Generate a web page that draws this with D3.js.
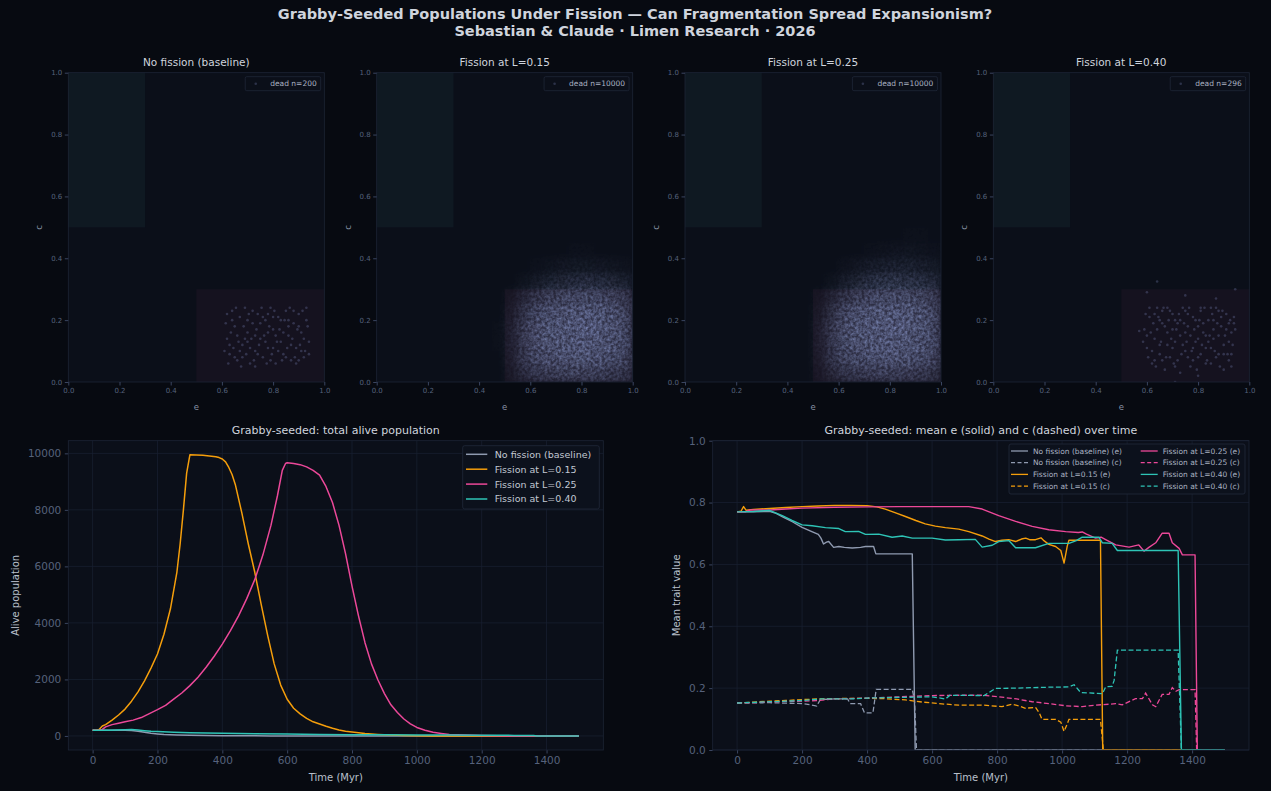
<!DOCTYPE html>
<html>
<head>
<meta charset="utf-8">
<script src="https://cdn.jsdelivr.net/npm/d3@7"></script>
<style>
  body { margin: 0; background: #070a11; }
  text { font-family: "DejaVu Sans", sans-serif; }
</style>
</head>
<body>
<svg id="chart" width="1271" height="791"></svg>
<script>
// ---- data ----
var scenarios = ["No fission (baseline)", "Fission at L=0.15", "Fission at L=0.25", "Fission at L=0.40"];
var colors = ["#8f9ab0", "#f59e0b", "#ec4899", "#2ec4b6"];
var deadCounts = [200, 10000, 10000, 296];
var axisTicks01 = [0, 0.2, 0.4, 0.6, 0.8, 1.0];
var timeTicks = [0, 200, 400, 600, 800, 1000, 1200, 1400];
var popTicks = [0, 2000, 4000, 6000, 8000, 10000];

// sparse dead populations (e, c)
var deadBaseline = [[0.62,0.14],[0.63,0.09],[0.64,0.23],[0.65,0.18],[0.66,0.07],[0.67,0.21],[0.68,0.12],[0.69,0.24],[0.70,0.16],[0.71,0.06],[0.72,0.19],[0.73,0.10],[0.74,0.22],[0.75,0.14],[0.76,0.08],[0.77,0.2],[0.78,0.11],[0.79,0.24],[0.80,0.17],[0.81,0.06],[0.82,0.21],[0.83,0.13],[0.84,0.09],[0.85,0.23],[0.86,0.15],[0.87,0.07],[0.88,0.19],[0.89,0.11],[0.90,0.22],[0.91,0.16],[0.92,0.08],[0.93,0.2],[0.94,0.13],
  [0.615,0.19],[0.625,0.06],[0.635,0.16],[0.645,0.11],[0.655,0.24],[0.665,0.13],[0.675,0.05],[0.685,0.18],[0.695,0.09],[0.705,0.22],[0.715,0.14],[0.725,0.07],[0.735,0.17],[0.745,0.12],[0.755,0.24],[0.765,0.15],[0.775,0.06],[0.785,0.18],[0.795,0.09],[0.805,0.23],[0.815,0.13],[0.825,0.17],[0.835,0.07],[0.845,0.2],[0.855,0.11],[0.865,0.24],[0.875,0.14],[0.885,0.08],[0.895,0.17],[0.905,0.12],[0.915,0.23],[0.925,0.1],[0.935,0.18],
  [0.61,0.1],[0.64,0.2],[0.66,0.15],[0.68,0.08],[0.7,0.2],[0.72,0.23],[0.73,0.05],[0.75,0.19],[0.77,0.13],[0.79,0.07],[0.8,0.21],[0.82,0.1],[0.84,0.16],[0.86,0.2],[0.87,0.12],[0.89,0.06],[0.9,0.18],[0.92,0.14],[0.94,0.09],[0.63,0.12],[0.67,0.1],[0.69,0.14],[0.71,0.11],[0.74,0.09],[0.76,0.21],[0.78,0.16],[0.81,0.15],[0.83,0.2],[0.85,0.08],[0.88,0.23],[0.91,0.1],[0.93,0.24],[0.62,0.22],[0.65,0.08],[0.7,0.13],[0.73,0.15],[0.78,0.22],[0.8,0.11],[0.86,0.18],[0.9,0.07]];

var deadL40 = [[0.59,0.17],[0.6,0.11],[0.61,0.21],[0.62,0.06],[0.63,0.14],[0.64,0.24],[0.65,0.09],[0.66,0.19],[0.67,0.04],[0.68,0.16],[0.69,0.23],[0.7,0.11],[0.71,0.2],[0.72,0.07],[0.73,0.15],[0.74,0.24],[0.75,0.1],[0.76,0.18],[0.77,0.05],[0.78,0.21],[0.79,0.13],[0.8,0.08],[0.81,0.23],[0.82,0.16],[0.83,0.11],[0.84,0.2],[0.85,0.06],[0.86,0.14],[0.87,0.24],[0.88,0.09],[0.89,0.18],[0.9,0.12],[0.91,0.22],[0.92,0.07],[0.93,0.16],[0.94,0.21],
  [0.585,0.13],[0.595,0.22],[0.605,0.08],[0.615,0.16],[0.625,0.19],[0.635,0.05],[0.645,0.21],[0.655,0.13],[0.665,0.24],[0.675,0.08],[0.685,0.2],[0.695,0.14],[0.705,0.06],[0.715,0.17],[0.725,0.22],[0.735,0.09],[0.745,0.19],[0.755,0.13],[0.765,0.24],[0.775,0.1],[0.785,0.17],[0.795,0.04],[0.805,0.2],[0.815,0.12],[0.825,0.24],[0.835,0.07],[0.845,0.15],[0.855,0.22],[0.865,0.1],[0.875,0.19],[0.885,0.05],[0.895,0.23],[0.905,0.15],[0.915,0.09],[0.925,0.2],[0.935,0.12],[0.945,0.17],
  [0.6,0.15],[0.62,0.1],[0.63,0.22],[0.64,0.17],[0.65,0.12],[0.66,0.07],[0.67,0.18],[0.68,0.24],[0.69,0.08],[0.7,0.17],[0.71,0.13],[0.72,0.19],[0.73,0.03],[0.74,0.12],[0.75,0.23],[0.76,0.08],[0.77,0.15],[0.78,0.11],[0.79,0.2],[0.8,0.14],[0.81,0.09],[0.82,0.19],[0.83,0.06],[0.84,0.13],[0.85,0.24],[0.86,0.2],[0.87,0.08],[0.88,0.15],[0.89,0.21],[0.9,0.04],[0.91,0.17],[0.92,0.13],[0.93,0.09],[0.94,0.19],
  [0.61,0.24],[0.63,0.07],[0.65,0.2],[0.66,0.23],[0.68,0.12],[0.7,0.22],[0.71,0.05],[0.73,0.2],[0.75,0.16],[0.76,0.22],[0.78,0.07],[0.8,0.18],[0.81,0.24],[0.83,0.15],[0.85,0.11],[0.86,0.17],[0.88,0.23],[0.9,0.09],[0.92,0.19],[0.93,0.05],
  [0.64,0.325],[0.6,0.29],[0.945,0.3],[0.71,0.0],[0.8,0.02],[0.57,0.165],[0.75,0.28],[0.87,0.27]];

// dense dead clouds as density grids: rows c = 0..0.45 (step 0.05), cols e = 0.45..0.95 (step 0.05)
var gridE = [0.45, 0.5, 0.55, 0.6, 0.65, 0.7, 0.75, 0.8, 0.85, 0.9, 0.95];
var gridC = [0, 0.05, 0.1, 0.15, 0.2, 0.25, 0.3, 0.35, 0.4, 0.45];
var densityL15 = [
  [0, 0.12, 0.35, 0.5, 0.55, 0.6, 0.62, 0.62, 0.58, 0.5, 0.45],
  [0, 0.18, 0.5, 0.72, 0.8, 0.85, 0.88, 0.9, 0.85, 0.78, 0.65],
  [0.02, 0.2, 0.55, 0.8, 0.88, 0.92, 0.95, 0.97, 0.93, 0.85, 0.7],
  [0.02, 0.2, 0.55, 0.8, 0.9, 0.95, 0.98, 1.0, 0.95, 0.88, 0.72],
  [0, 0.15, 0.45, 0.7, 0.82, 0.88, 0.92, 0.95, 0.9, 0.82, 0.65],
  [0, 0.08, 0.28, 0.48, 0.6, 0.68, 0.72, 0.75, 0.7, 0.62, 0.5],
  [0, 0, 0.06, 0.15, 0.25, 0.3, 0.35, 0.38, 0.35, 0.3, 0.22],
  [0, 0, 0, 0.03, 0.06, 0.1, 0.12, 0.12, 0.1, 0.08, 0.05],
  [0, 0, 0, 0, 0, 0.01, 0.03, 0.02, 0.01, 0, 0],
  [0, 0, 0, 0, 0, 0, 0, 0, 0, 0, 0]];
var densityL25 = [
  [0, 0.1, 0.3, 0.45, 0.5, 0.55, 0.58, 0.58, 0.55, 0.5, 0.42],
  [0, 0.15, 0.45, 0.68, 0.78, 0.82, 0.85, 0.88, 0.85, 0.78, 0.65],
  [0, 0.18, 0.5, 0.78, 0.88, 0.92, 0.95, 0.95, 0.92, 0.85, 0.7],
  [0, 0.18, 0.52, 0.8, 0.9, 0.95, 0.97, 1.0, 0.97, 0.9, 0.72],
  [0, 0.12, 0.42, 0.7, 0.85, 0.9, 0.93, 0.95, 0.93, 0.85, 0.68],
  [0, 0.06, 0.25, 0.45, 0.6, 0.7, 0.75, 0.78, 0.75, 0.68, 0.55],
  [0, 0, 0.06, 0.18, 0.3, 0.4, 0.45, 0.48, 0.45, 0.4, 0.32],
  [0, 0, 0, 0.05, 0.1, 0.16, 0.2, 0.22, 0.22, 0.18, 0.14],
  [0, 0, 0, 0, 0.01, 0.03, 0.05, 0.07, 0.08, 0.06, 0.04],
  [0, 0, 0, 0, 0, 0, 0, 0.01, 0.02, 0.02, 0.01]];

// alive population over time [Myr, count]
var popBaseline = [[0,200],[100,200],[120,195],[140,170],[160,130],[180,95],[200,70],[220,50],[240,38],[260,30],[300,22],[350,15],[400,10],[450,5],[500,3],[550,0],[1500,0]];
var popL15 = [[0,200],[12,200],[20,230],[30,350],[40,400],[60,560],[80,740],[100,950],[120,1230],[140,1560],[160,1950],[180,2400],[200,2900],[220,3600],[240,4500],[260,5800],[270,6800],[280,8000],[290,9300],[300,9950],[320,9940],[340,9930],[360,9910],[380,9880],[390,9850],[400,9800],[410,9700],[420,9500],[430,9250],[440,8900],[460,7900],[480,6800],[500,5800],[520,4650],[540,3550],[560,2550],[580,1800],[600,1300],[620,980],[640,780],[660,620],[680,500],[700,420],[720,340],[740,270],[760,210],[780,170],[800,140],[840,90],[880,55],[920,30],[960,15],[1000,5],[1050,0],[1500,0]];
var popL25 = [[0,200],[22,200],[30,230],[40,320],[60,400],[80,450],[100,500],[125,560],[150,650],[175,790],[200,930],[225,1080],[250,1300],[275,1520],[300,1780],[325,2080],[350,2430],[375,2820],[400,3250],[425,3730],[450,4250],[475,4850],[500,5530],[525,6400],[550,7450],[570,8500],[585,9400],[595,9640],[600,9670],[620,9640],[640,9600],[660,9520],[680,9400],[700,9230],[720,8820],[740,8250],[760,7450],[780,6450],[800,5300],[820,4250],[840,3300],[860,2550],[880,1980],[900,1500],[920,1100],[940,830],[960,600],[980,430],[1000,300],[1025,200],[1050,130],[1075,90],[1100,55],[1150,30],[1200,15],[1250,5],[1300,0],[1500,0]];
var popL40 = [[0,200],[50,205],[100,220],[120,225],[140,210],[160,185],[180,165],[200,155],[250,135],[300,115],[400,95],[500,80],[600,65],[700,55],[800,45],[900,40],[1000,35],[1100,30],[1200,25],[1300,20],[1360,15],[1370,0],[1500,0]];

// mean traits over time [Myr, value]
var eBaseline = [[0,0.77],[50,0.77],[100,0.772],[120,0.765],[140,0.754],[170,0.738],[200,0.72],[230,0.706],[250,0.697],[258,0.685],[266,0.666],[275,0.672],[282,0.674],[297,0.655],[313,0.658],[330,0.655],[354,0.653],[380,0.655],[395,0.658],[420,0.658],[427,0.634],[539,0.634],[548,0],[1500,0]];
var cBaseline = [[0,0.152],[100,0.153],[200,0.15],[225,0.146],[245,0.142],[256,0.163],[300,0.165],[340,0.165],[348,0.15],[380,0.15],[392,0.12],[418,0.12],[428,0.196],[539,0.196],[546,0.16],[552,0],[1500,0]];
var eL15 = [[0,0.77],[12,0.772],[20,0.787],[28,0.775],[50,0.778],[100,0.781],[150,0.784],[200,0.787],[250,0.789],[300,0.791],[350,0.791],[400,0.79],[430,0.786],[456,0.779],[490,0.766],[518,0.755],[550,0.742],[579,0.731],[610,0.724],[641,0.719],[682,0.714],[713,0.706],[754,0.692],[775,0.682],[795,0.674],[815,0.678],[836,0.68],[857,0.674],[875,0.682],[888,0.685],[900,0.68],[918,0.68],[935,0.686],[945,0.676],[959,0.665],[980,0.658],[996,0.645],[1006,0.604],[1016,0.66],[1021,0.678],[1118,0.678],[1125,0],[1500,0]];
var cL15 = [[0,0.152],[50,0.155],[100,0.158],[150,0.16],[200,0.163],[250,0.165],[300,0.166],[350,0.167],[400,0.167],[450,0.166],[518,0.162],[570,0.155],[620,0.15],[682,0.145],[760,0.145],[815,0.14],[846,0.148],[870,0.142],[887,0.135],[918,0.138],[930,0.12],[938,0.099],[980,0.099],[996,0.09],[1006,0.06],[1016,0.085],[1021,0.099],[1118,0.099],[1127,0],[1500,0]];
var eL25 = [[0,0.77],[25,0.77],[30,0.772],[40,0.776],[100,0.776],[150,0.779],[200,0.782],[300,0.785],[400,0.786],[500,0.787],[600,0.787],[713,0.787],[754,0.779],[805,0.758],[857,0.739],[908,0.723],[959,0.712],[1011,0.706],[1050,0.703],[1062,0.705],[1075,0.698],[1103,0.685],[1120,0.688],[1134,0.68],[1165,0.663],[1206,0.656],[1236,0.663],[1252,0.643],[1267,0.655],[1288,0.67],[1308,0.701],[1329,0.701],[1339,0.67],[1360,0.652],[1370,0.631],[1409,0.631],[1416,0],[1500,0]];
var cL25 = [[0,0.152],[50,0.153],[100,0.155],[150,0.157],[200,0.158],[250,0.16],[300,0.165],[400,0.168],[500,0.172],[600,0.176],[682,0.177],[760,0.177],[805,0.172],[860,0.165],[908,0.156],[960,0.15],[1011,0.143],[1062,0.14],[1100,0.145],[1144,0.148],[1165,0.15],[1185,0.146],[1226,0.166],[1247,0.166],[1257,0.184],[1278,0.146],[1288,0.14],[1308,0.18],[1329,0.18],[1339,0.202],[1350,0.19],[1360,0.195],[1409,0.195],[1414,0],[1500,0]];
var eL40 = [[0,0.77],[50,0.771],[100,0.775],[139,0.758],[169,0.742],[200,0.728],[231,0.725],[272,0.719],[313,0.716],[333,0.706],[374,0.707],[395,0.697],[436,0.698],[477,0.688],[508,0.692],[539,0.685],[600,0.685],[641,0.679],[682,0.68],[733,0.681],[754,0.656],[785,0.662],[805,0.674],[836,0.677],[857,0.654],[918,0.654],[959,0.668],[1021,0.668],[1042,0.676],[1062,0.688],[1113,0.688],[1124,0.67],[1154,0.668],[1170,0.645],[1357,0.645],[1367,0],[1500,0]];
var cL40 = [[0,0.152],[50,0.154],[100,0.156],[150,0.158],[200,0.16],[260,0.165],[350,0.165],[400,0.168],[500,0.17],[600,0.172],[641,0.165],[655,0.177],[760,0.176],[795,0.199],[857,0.2],[959,0.203],[1021,0.204],[1037,0.211],[1057,0.186],[1124,0.182],[1134,0.204],[1154,0.206],[1160,0.225],[1170,0.323],[1357,0.323],[1367,0],[1500,0]];

var popSeries = [popBaseline, popL15, popL25, popL40];
var eSeries = [eBaseline, eL15, eL25, eL40];
var cSeries = [cBaseline, cL15, cL25, cL40];

// ---- style ----
var plotBg = "#0b0f19";
var spineColor = "#1d2536";
var gridColor = "#182030";
var tickColor = "#56627c";
var labelColor = "#b9c0cc";
var titleColor = "#cfd4dd";
var dotColor = "#7b86bb";
var cloudColor = "#717ca8";

var svg = d3.select("#chart");
var defs = svg.append("defs");

// blurred density, broken up with a soft grain so it reads like a cloud of faint dots
var speckle = defs.append("filter").attr("id", "speckle")
    .attr("x", "-10%").attr("y", "-10%").attr("width", "120%").attr("height", "120%");
speckle.append("feGaussianBlur").attr("in", "SourceGraphic").attr("stdDeviation", 3.5).attr("result", "b");
speckle.append("feTurbulence").attr("type", "fractalNoise").attr("baseFrequency", 0.35)
    .attr("numOctaves", 2).attr("seed", 4).attr("result", "n");
speckle.append("feColorMatrix").attr("in", "n").attr("type", "matrix")
    .attr("values", "0 0 0 0 1  0 0 0 0 1  0 0 0 0 1  1.8 0 0 0 -0.5").attr("result", "m");
speckle.append("feComposite").attr("in", "b").attr("in2", "m").attr("operator", "arithmetic")
    .attr("k1", 0.8).attr("k2", 0.38).attr("k3", 0).attr("k4", 0);

svg.append("rect").attr("width", 1271).attr("height", 791).attr("fill", "#070a11");

svg.append("text").attr("x", 635).attr("y", 19).attr("text-anchor", "middle")
    .attr("font-size", 14.5).attr("font-weight", "bold").attr("fill", titleColor)
    .text("Grabby-Seeded Populations Under Fission — Can Fragmentation Spread Expansionism?");
svg.append("text").attr("x", 635).attr("y", 36).attr("text-anchor", "middle")
    .attr("font-size", 14.5).attr("font-weight", "bold").attr("fill", titleColor)
    .text("Sebastian & Claude · Limen Research · 2026");

function styleAxis(g, fontSize) {
    g.select(".domain").remove();
    g.selectAll(".tick line").attr("stroke", "#3a4560");
    g.selectAll(".tick text").attr("fill", tickColor).attr("font-size", fontSize)
        .attr("font-family", "DejaVu Sans, sans-serif");
}

// ---- top row: e vs c scatter of dead populations ----
var topLeft = [68.3, 376.7, 685, 993.3];
var topW = 256, topY = 72.7, topH = 309.3;

topLeft.forEach(function(left, i) {
    var x = d3.scaleLinear().domain([0, 1]).range([0, topW]);
    var y = d3.scaleLinear().domain([0, 1]).range([topH, 0]);
    var g = svg.append("g").attr("transform", `translate(${left},${topY})`);

    defs.append("clipPath").attr("id", "clipTop" + i)
      .append("rect").attr("width", topW).attr("height", topH);

    g.append("rect").attr("width", topW).attr("height", topH).attr("fill", plotBg);

    // target zones
    g.append("rect").attr("x", x(0)).attr("y", y(1))
        .attr("width", x(0.3) - x(0)).attr("height", y(0.5) - y(1)).attr("fill", "#0f1922");
    g.append("rect").attr("x", x(0.5)).attr("y", y(0.3))
        .attr("width", x(1) - x(0.5)).attr("height", y(0) - y(0.3)).attr("fill", "#15121f");

    var marks = g.append("g").attr("clip-path", `url(#clipTop${i})`);
    var pts = i === 0 ? deadBaseline : (i === 3 ? deadL40 : null);
    if (pts) {
        marks.selectAll("circle").data(pts).enter().append("circle")
            .attr("cx", d => x(d[0])).attr("cy", d => y(d[1])).attr("r", 1.3)
            .attr("fill", dotColor).attr("opacity", 0.3);
    } else {
        var grid = i === 1 ? densityL15 : densityL25;
        var cells = [];
        grid.forEach(function(row, r) {
            row.forEach(function(v, k) { cells.push({e: gridE[k], c: gridC[r], v: v}); });
        });
        marks.append("g").attr("filter", "url(#speckle)")
          .selectAll("rect").data(cells.filter(d => d.v > 0)).enter().append("rect")
            .attr("x", d => x(d.e)).attr("y", d => y(d.c + 0.05))
            .attr("width", x(0.05) - x(0)).attr("height", y(0) - y(0.05))
            .attr("fill", cloudColor).attr("opacity", d => Math.min(1, d.v * 0.9));
    }

    g.append("rect").attr("width", topW).attr("height", topH)
        .attr("fill", "none").attr("stroke", spineColor).attr("stroke-width", 0.8);

    var xa = g.append("g").attr("transform", `translate(0,${topH})`)
        .call(d3.axisBottom(x).tickValues(axisTicks01).tickFormat(d3.format(".1f")).tickSize(3.5).tickPadding(2.5));
    styleAxis(xa, 7);
    var ya = g.append("g")
        .call(d3.axisLeft(y).tickValues(axisTicks01).tickFormat(d3.format(".1f")).tickSize(3.5).tickPadding(2.5));
    styleAxis(ya, 7);

    g.append("text").attr("x", topW / 2).attr("y", -7).attr("text-anchor", "middle")
        .attr("font-size", 10.5).attr("fill", titleColor).text(scenarios[i]);
    g.append("text").attr("x", topW / 2).attr("y", topH + 28).attr("text-anchor", "middle")
        .attr("font-size", 8.5).attr("fill", "#8690a4").text("e");
    g.append("text").attr("transform", `translate(-26,${topH / 2}) rotate(-90)`).attr("text-anchor", "middle")
        .attr("font-size", 8.5).attr("fill", "#8690a4").text("c");

    // legend
    var lg = g.append("g");
    var box = lg.append("rect").attr("y", 4).attr("height", 14).attr("rx", 1.5)
        .attr("fill", plotBg).attr("stroke", "#1f2738").attr("stroke-width", 0.8);
    var lt = lg.append("text").attr("y", 13.5).attr("font-size", 7.5).attr("fill", "#aab2c2")
        .text("dead n=" + deadCounts[i]);
    var tw = lt.node().getComputedTextLength();
    var bx = topW - 3.6 - (25 + tw + 4);
    box.attr("x", bx).attr("width", 25 + tw + 4);
    lt.attr("x", bx + 25);
    lg.append("circle").attr("cx", bx + 10.5).attr("cy", 11).attr("r", 1.3)
        .attr("fill", dotColor).attr("opacity", 0.3);
});

// ---- bottom row ----
var botY = 440.7, botH = 309.3;

function bottomFrame(left, width, yScale, yTicks, yFormat, title, yLabel, id) {
    var x = d3.scaleLinear().domain([-75, 1575]).range([0, width]);
    var g = svg.append("g").attr("transform", `translate(${left},${botY})`);
    defs.append("clipPath").attr("id", id).append("rect").attr("width", width).attr("height", botH);
    g.append("rect").attr("width", width).attr("height", botH).attr("fill", plotBg);

    g.append("g").selectAll("line").data(timeTicks).enter().append("line")
        .attr("x1", d => x(d)).attr("x2", d => x(d)).attr("y1", 0).attr("y2", botH)
        .attr("stroke", gridColor).attr("stroke-width", 0.8);
    g.append("g").selectAll("line").data(yTicks).enter().append("line")
        .attr("y1", d => yScale(d)).attr("y2", d => yScale(d)).attr("x1", 0).attr("x2", width)
        .attr("stroke", gridColor).attr("stroke-width", 0.8);

    var xa = g.append("g").attr("transform", `translate(0,${botH})`)
        .call(d3.axisBottom(x).tickValues(timeTicks).tickFormat(d3.format("d")).tickSize(3.5).tickPadding(3.5));
    styleAxis(xa, 10.5);
    var ya = g.append("g")
        .call(d3.axisLeft(yScale).tickValues(yTicks).tickFormat(yFormat).tickSize(3.5).tickPadding(3.5));
    styleAxis(ya, 10.5);

    g.append("text").attr("x", width / 2).attr("y", -7).attr("text-anchor", "middle")
        .attr("font-size", 11).attr("fill", titleColor).text(title);
    g.append("text").attr("x", width / 2).attr("y", botH + 31).attr("text-anchor", "middle")
        .attr("font-size", 10).attr("fill", labelColor).text("Time (Myr)");
    g.append("text").attr("transform", `translate(${yLabel.dx},${botH / 2}) rotate(-90)`)
        .attr("text-anchor", "middle").attr("font-size", 10).attr("fill", labelColor).text(yLabel.text);
    return {g: g, x: x};
}

// bottom left: alive population
var popW = 535;
var yPop = d3.scaleLinear().domain([-497.5, 10447.5]).range([botH, 0]);
var left = bottomFrame(68.3, popW, yPop, popTicks, d3.format("d"),
    "Grabby-seeded: total alive population", {dx: -49, text: "Alive population"}, "clipPop");
var popLine = d3.line().x(d => left.x(d[0])).y(d => yPop(d[1]));
var popLines = left.g.append("g").attr("clip-path", "url(#clipPop)");
popSeries.forEach(function(s, i) {
    popLines.append("path").attr("d", popLine(s)).attr("fill", "none")
        .attr("stroke", colors[i]).attr("stroke-width", 1.5).attr("stroke-linejoin", "round");
});
left.g.append("rect").attr("width", popW).attr("height", botH)
    .attr("fill", "none").attr("stroke", spineColor).attr("stroke-width", 0.8);

var popLegend = left.g.append("g").attr("transform", `translate(${462.7 - 68.3},${445.7 - botY})`);
popLegend.append("rect").attr("width", 136.6).attr("height", 63.3).attr("rx", 2)
    .attr("fill", "#0c111c").attr("stroke", "#222a3b").attr("stroke-width", 0.8);
scenarios.forEach(function(name, i) {
    var ly = 8.6 + i * 14.9;
    popLegend.append("line").attr("x1", 3.3).attr("x2", 24.6).attr("y1", ly).attr("y2", ly)
        .attr("stroke", colors[i]).attr("stroke-width", 1.5);
    popLegend.append("text").attr("x", 32).attr("y", ly + 3.5).attr("font-size", 9.5)
        .attr("fill", "#c2c8d3").text(name);
});

// bottom right: mean traits
var trW = 536.3;
var yTrait = d3.scaleLinear().domain([0, 1]).range([botH, 0]);
var right = bottomFrame(712.7, trW, yTrait, axisTicks01, d3.format(".1f"),
    "Grabby-seeded: mean e (solid) and c (dashed) over time", {dx: -33, text: "Mean trait value"}, "clipTrait");
var trLine = d3.line().x(d => right.x(d[0])).y(d => yTrait(d[1]));
var trLines = right.g.append("g").attr("clip-path", "url(#clipTrait)");
scenarios.forEach(function(name, i) {
    trLines.append("path").attr("d", trLine(eSeries[i])).attr("fill", "none")
        .attr("stroke", colors[i]).attr("stroke-width", 1.4).attr("stroke-linejoin", "round");
    trLines.append("path").attr("d", trLine(cSeries[i])).attr("fill", "none")
        .attr("stroke", colors[i]).attr("stroke-width", 1.3).attr("stroke-dasharray", "5,2.5");
});
right.g.append("rect").attr("width", trW).attr("height", botH)
    .attr("fill", "none").attr("stroke", spineColor).attr("stroke-width", 0.8);

var trLegend = right.g.append("g").attr("transform", `translate(${1009 - 712.7},${444 - botY})`);
trLegend.append("rect").attr("width", 236).attr("height", 50).attr("rx", 2)
    .attr("fill", "#0c111c").attr("stroke", "#222a3b").attr("stroke-width", 0.8);
var trEntries = [];
scenarios.forEach(function(name, i) {
    trEntries.push({label: name + " (e)", color: colors[i], dash: null});
    trEntries.push({label: name + " (c)", color: colors[i], dash: "4,2.5"});
});
trEntries.forEach(function(d, k) {
    var col = Math.floor(k / 4), row = k % 4;
    var lx = col === 0 ? 2 : 131.7;
    var ly = 7 + row * 11.7;
    trLegend.append("line").attr("x1", lx).attr("x2", lx + 17).attr("y1", ly).attr("y2", ly)
        .attr("stroke", d.color).attr("stroke-width", 1.3).attr("stroke-dasharray", d.dash);
    trLegend.append("text").attr("x", lx + 22).attr("y", ly + 2.7).attr("font-size", 7.5)
        .attr("fill", "#aab2c2").text(d.label);
});
</script>
</body>
</html>
